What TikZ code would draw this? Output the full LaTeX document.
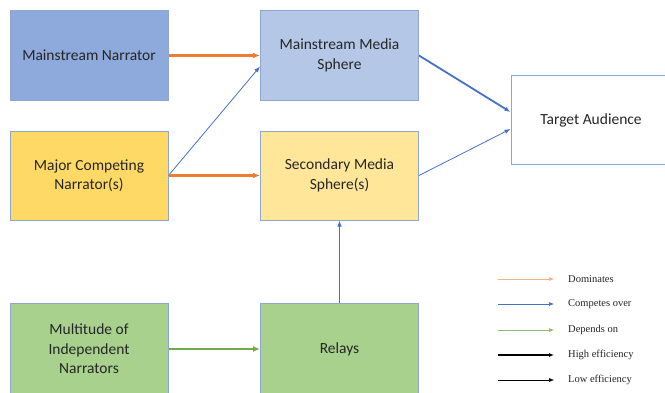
\documentclass[tikz,border=0pt]{standalone}
\usepackage{fontspec}
\setmainfont{Carlito}
\newfontfamily\legendfont{Liberation Serif}
\usetikzlibrary{arrows.meta}
\definecolor{boxline}{RGB}{143,166,208}
\definecolor{narrblue}{RGB}{142,169,219}
\definecolor{mediablue}{RGB}{180,199,231}
\definecolor{narryellow}{RGB}{255,217,102}
\definecolor{mediayellow}{RGB}{255,230,153}
\definecolor{indepgreen}{RGB}{169,209,142}
\definecolor{domorange}{RGB}{237,125,49}
\definecolor{compblue}{RGB}{68,114,196}
\definecolor{depgreen}{RGB}{112,173,71}
\definecolor{textgrey}{RGB}{38,38,38}
\begin{document}
\begin{tikzpicture}[x=1pt,y=1pt,
  every node/.style={align=center,text=textgrey,font=\fontsize{15.5}{19.5}\selectfont},
  box/.style={draw=boxline,line width=1pt,minimum width=158pt,minimum height=89pt,inner sep=0pt},
  dom/.style={draw=domorange,line width=2.2pt,-{Latex[length=7pt,width=6pt]}},
  comp/.style={draw=compblue,line width=0.8pt,-{Latex[length=6pt,width=4.5pt]}},
  dep/.style={draw=depgreen,line width=2pt,-{Latex[length=7pt,width=6pt]}},
  leg/.style={anchor=west,inner sep=0pt,text=textgrey,font=\legendfont\fontsize{10.5}{12}\selectfont}]
 \useasboundingbox[fill=white] (0,0) rectangle (665,392);
 % narrators and media spheres
 \node[box,fill=narrblue] (mn) at (89,336.5) {Mainstream Narrator};
 \node[box,fill=mediablue] (mms) at (339.5,336.5) {Mainstream Media\\Sphere};
 \node[box,fill=narryellow] (mcn) at (89,216.5) {Major Competing\\Narrator(s)};
 \node[box,fill=mediayellow] (sms) at (339.5,216.5) {Secondary Media\\Sphere(s)};
 \node[box,fill=indepgreen,minimum height=92pt] (min) at (89,43) {Multitude of\\Independent\\Narrators};
 \node[box,fill=indepgreen,minimum height=92pt] (rel) at (339.5,43) {Relays};
 \node[box,fill=white,minimum width=160pt,minimum height=88pt] (ta) at (591,272) {Target Audience};
 % connectors
 \draw[dom] (mn) -- (mms);
 \draw[comp] (mcn.east) -- ([yshift=-11pt]mms.west);
 \draw[dom] (mcn) -- (sms);
 \draw[comp,line width=1.8pt] (mms.east) -- ([yshift=8pt]ta.west);
 \draw[comp] (sms.east) -- ([yshift=-9pt]ta.west);
 \draw[comp] (rel) -- (sms);
 \draw[dep] (min) -- (rel);
 % legend
 \node[leg] (l1) at (568,113) {Dominates};
 \node[leg] (l2) at (568,88) {Competes over};
 \node[leg] (l3) at (568,62) {Depends on};
 \node[leg] (l4) at (568,37) {High efficiency};
 \node[leg] (l5) at (568,12) {Low efficiency};
 \coordinate (s1) at (498,113);
 \coordinate (s2) at (498,88);
 \coordinate (s3) at (498,62);
 \coordinate (s4) at (498,37);
 \coordinate (s5) at (498,12);
 \draw[dom,line width=0.6pt,draw=domorange!60,-{Latex[length=5pt,width=4pt]}] (s1) -- ([xshift=-14pt]l1.west);
 \draw[comp,line width=0.6pt,-{Latex[length=5pt,width=4pt]}] (s2) -- ([xshift=-14pt]l2.west);
 \draw[dep,line width=0.6pt,draw=depgreen!80,-{Latex[length=5pt,width=4pt]}] (s3) -- ([xshift=-14pt]l3.west);
 \draw[black,line width=1.4pt,-{Latex[length=5pt,width=4pt]}] (s4) -- ([xshift=-14pt]l4.west);
 \draw[black,line width=0.5pt,-{Latex[length=5pt,width=4pt]}] (s5) -- ([xshift=-14pt]l5.west);
\end{tikzpicture}
\end{document}
